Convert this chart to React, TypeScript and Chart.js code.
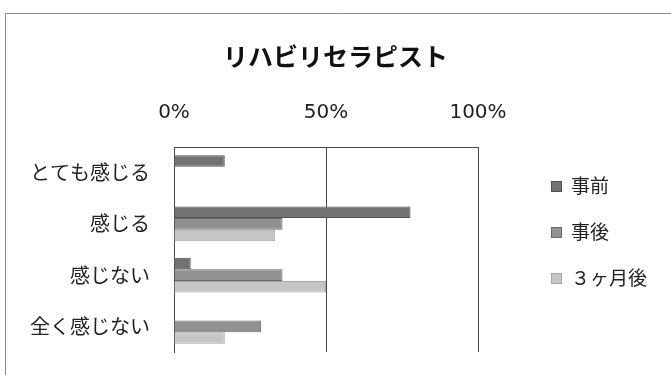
import React, { useEffect, useRef } from "react";
import { Chart, registerables } from "chart.js";

Chart.register(...registerables);

const TITLE = "リハビリセラピスト";
const categories = ["とても感じる", "感じる", "感じない", "全く感じない"];
const seriesNames = ["事前", "事後", "３ヶ月後"];
const beforeValues = [16.7, 77.8, 5.5, 0];
const afterValues = [0, 35.7, 35.7, 28.6];
const threeMonthValues = [0, 33.3, 50, 16.7];
const tickValues = [0, 50, 100];

const fills = ["#727272", "#919191", "#c6c6c6"];
const borders = ["#525252", "#6a6a6a", "#a6a6a6"];

const JP = '"Noto Sans CJK JP", "Noto Sans", sans-serif';

const framePlugin = {
  id: "frame",
  beforeDraw(chart: any) {
    const ctx = chart.ctx;
    ctx.save();
    ctx.fillStyle = "#ffffff";
    ctx.fillRect(0, 0, chart.width, chart.height);
    ctx.strokeStyle = "#8c8c8c";
    ctx.lineWidth = 1;
    ctx.beginPath();
    ctx.moveTo(5.5, chart.height);
    ctx.lineTo(5.5, 13.5);
    ctx.lineTo(chart.width, 13.5);
    ctx.stroke();
    ctx.restore();
  },
};

const legendPlugin = {
  id: "sideLegend",
  afterDraw(chart: any) {
    const ctx = chart.ctx;
    ctx.save();
    const rows = [186, 232, 278];
    chart.data.datasets.forEach((ds: any, i: number) => {
      const cy = rows[i];
      ctx.fillStyle = ds.backgroundColor;
      ctx.fillRect(551, cy - 5, 11, 11);
      ctx.strokeStyle = ds.borderColor;
      ctx.lineWidth = 1;
      ctx.strokeRect(551.5, cy - 4.5, 10, 10);
      ctx.fillStyle = "#222222";
      ctx.font = `19px ${JP}`;
      ctx.textBaseline = "middle";
      ctx.textAlign = "left";
      ctx.fillText(ds.label, 571, cy);
    });
    ctx.restore();
  },
};

export default function App() {
  const ref = useRef<HTMLCanvasElement | null>(null);

  useEffect(() => {
    if (!ref.current) return;
    const values = [beforeValues, afterValues, threeMonthValues];
    const chart = new Chart(ref.current, {
      type: "bar",
      data: {
        labels: categories,
        datasets: seriesNames.map((name, i) => ({
          label: name,
          data: values[i],
          backgroundColor: fills[i],
          borderColor: borders[i],
          borderWidth: 1,
          categoryPercentage: 0.68,
          barPercentage: 1,
        })),
      },
      options: {
        indexAxis: "y",
        responsive: false,
        animation: false,
        devicePixelRatio: 1,
        layout: { padding: { left: 0, top: 0, right: 0, bottom: 23 } },
        plugins: {
          legend: { display: false },
          tooltip: { enabled: false },
          title: {
            display: true,
            text: TITLE,
            color: "#111111",
            font: { family: JP, size: 25, weight: "bold", lineHeight: 1.2 },
            padding: { top: 41, bottom: 0 },
          },
        },
        scales: {
          x: {
            position: "top",
            min: 0,
            max: 100,
            afterBuildTicks(scale: any) {
              scale.ticks = tickValues.map((v) => ({ value: v }));
            },
            afterFit(scale: any) {
              scale.height = 76;
              scale.paddingLeft = 0;
              scale.paddingRight = 0;
            },
            ticks: {
              padding: 22,
              color: "#222222",
              font: { family: '"DejaVu Sans", sans-serif', size: 20, lineHeight: 1.2 },
              callback: (v: any) => `${v}%`,
            },
            grid: { color: "#4a4a4a", lineWidth: 1, drawTicks: false },
            border: { display: true, color: "#4a4a4a", width: 1 },
          },
          y: {
            afterFit(scale: any) {
              scale.width = 174;
              scale.paddingTop = 0;
              scale.paddingBottom = 0;
            },
            ticks: {
              padding: 24,
              color: "#222222",
              font: { family: JP, size: 20, lineHeight: 1.2 },
            },
            grid: { display: false, drawTicks: false },
            border: { display: true, color: "#4a4a4a", width: 1 },
          },
          legendSpace: {
            type: "linear",
            position: "right",
            display: true,
            afterFit(scale: any) {
              scale.width = 193;
              scale.paddingTop = 0;
              scale.paddingBottom = 0;
            },
            ticks: { display: false },
            grid: { display: false, drawTicks: false },
            border: { display: false },
          },
        },
      },
      plugins: [framePlugin, legendPlugin],
    } as any);
    return () => chart.destroy();
  }, []);

  return (
    <div style={{ position: "fixed", left: 0, top: 0, width: 671, height: 375, background: "#fff" }}>
      <canvas ref={ref} width={671} height={375} style={{ display: "block" }} />
    </div>
  );
}
